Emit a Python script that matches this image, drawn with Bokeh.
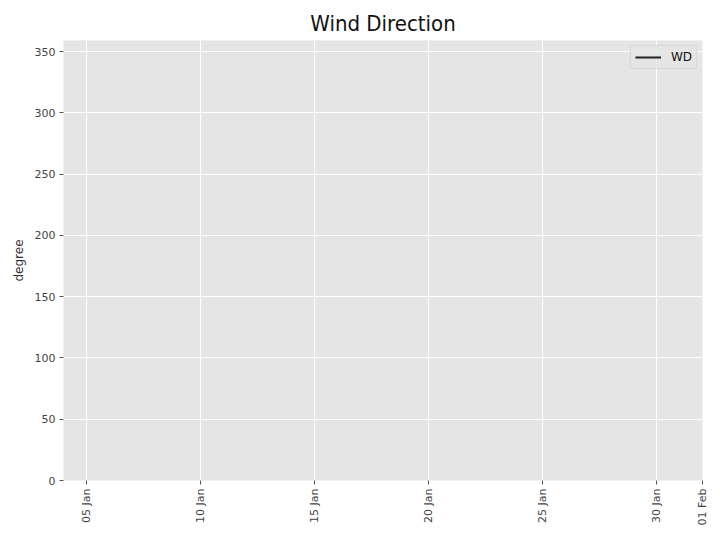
import math
import pandas as pd
from bokeh.plotting import figure
from bokeh.models import Range1d, FixedTicker, DatetimeTickFormatter, Legend, LegendItem, ColumnDataSource
from bokeh.embed import file_html
from bokeh.resources import INLINE

# data: the reference shows no wind-direction samples (all missing)
wd_dates = ["2019-01-04", "2019-02-01"]
wd_values = [float("nan"), float("nan")]
series_name = "WD"
x_start = "2019-01-04"
x_end = "2019-02-01"
tick_dates = ["2019-01-05", "2019-01-10", "2019-01-15", "2019-01-20",
              "2019-01-25", "2019-01-30", "2019-02-01"]
y_ticks = [0, 50, 100, 150, 200, 250, 300, 350]
y_max = 359

def ms(s):
    return pd.Timestamp(s).value / 1e6

p = figure(width=712, height=536, x_axis_type="datetime", output_backend="svg",
           toolbar_location=None,
           x_range=Range1d(ms(x_start), ms(x_end)), y_range=Range1d(0, y_max),
           min_border_left=63, min_border_right=10, min_border_top=40, min_border_bottom=56)

p.background_fill_color = "#e5e5e5"
p.border_fill_color = "white"
p.outline_line_color = None

p.title.text = "Wind Direction"
p.title.align = "center"
p.title.text_font = "DejaVu Sans Condensed, sans-serif"
p.title.text_font_size = "22px"
p.title.text_font_style = "normal"
p.title.text_color = "#111111"
p.title.offset = 0

src = ColumnDataSource(dict(x=[ms(d) for d in wd_dates], y=wd_values))
r = p.line("x", "y", source=src, line_color="#222222", line_width=2)

legend = Legend(items=[LegendItem(label=series_name, renderers=[r])], location="top_right")
legend.border_line_color = "#cccccc"
legend.background_fill_color = "#e5e5e5"
legend.background_fill_alpha = 0.8
legend.label_text_font = "DejaVu Sans"
legend.label_text_font_size = "12px"
legend.label_text_color = "#111111"
legend.glyph_width = 26
legend.glyph_height = 14
legend.label_height = 14
legend.label_standoff = 10
legend.padding = 4
legend.spacing = 0
legend.margin = 5
p.add_layout(legend)

p.xgrid.grid_line_color = "white"
p.ygrid.grid_line_color = "white"

p.xaxis.ticker = FixedTicker(ticks=[ms(d) for d in tick_dates])
fmt = "%d %b"
p.xaxis.formatter = DatetimeTickFormatter(milliseconds=fmt, seconds=fmt, minsec=fmt, minutes=fmt,
                                          hourmin=fmt, hours=fmt, days=fmt, months=fmt, years=fmt)
p.xaxis.major_label_orientation = math.pi / 2
p.yaxis.ticker = FixedTicker(ticks=y_ticks)
p.yaxis.axis_label = "degree"

for ax in (p.xaxis, p.yaxis):
    ax.axis_line_color = None
    ax.major_tick_line_color = "#555555"
    ax.major_tick_in = 0
    ax.major_tick_out = 4
    ax.minor_tick_line_color = None
    ax.major_label_text_font = "DejaVu Sans"
    ax.major_label_text_font_size = "11px"
    ax.major_label_text_color = "#444444"
    ax.major_label_standoff = 4
p.yaxis.axis_label_text_font = "DejaVu Sans"
p.yaxis.axis_label_text_font_size = "12px"
p.yaxis.axis_label_text_font_style = "normal"
p.yaxis.axis_label_text_color = "#333333"
p.yaxis.axis_label_standoff = 6

open("out.html", "w").write(file_html(p, INLINE))
